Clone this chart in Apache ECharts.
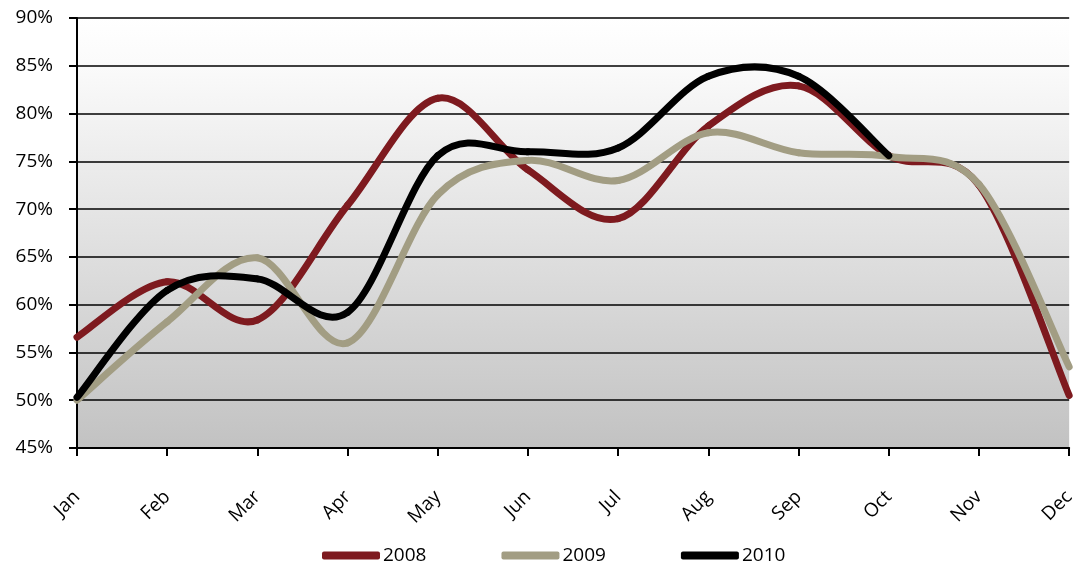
<!DOCTYPE html>
<html>
<head>
<meta charset="utf-8">
<script src="https://cdn.jsdelivr.net/npm/echarts@6/dist/echarts.min.js"></script>
<style>
  html, body { margin: 0; padding: 0; background: #fff; }
  #chart { width: 1078px; height: 567px; }
</style>
</head>
<body>
<div id="chart"></div>
<script>
// Monthly occupancy rate (%) by year
const months = ['Jan', 'Feb', 'Mar', 'Apr', 'May', 'Jun', 'Jul', 'Aug', 'Sep', 'Oct', 'Nov', 'Dec'];
const series2008 = [56.6, 62.4, 58.4, 70.4, 81.6, 74.1, 69.0, 78.7, 82.9, 75.6, 72.5, 50.5];
const series2009 = [50.0, 58.2, 64.9, 56.0, 71.5, 75.1, 73.0, 78.0, 75.9, 75.5, 72.6, 53.5];
const series2010 = [50.3, 61.5, 62.7, 59.2, 75.6, 76.0, 76.4, 83.9, 83.9, 75.6, null, null];

const yMin = 45, yMax = 90, yStep = 5;
const font = 'Open Sans, DejaVu Sans, sans-serif';

const chart = echarts.init(document.getElementById('chart'));

// Smoothed line drawn as Catmull-Rom cubic segments between consecutive months.
function curveSeries(name, values, color) {
  const n = values.length;
  const ok = k => k >= 0 && k < n && values[k] != null;
  return {
    name: name,
    type: 'custom',
    clip: false,
    itemStyle: { color: color },
    data: values.map((v, i) => [i, v == null ? '-' : v]),
    encode: { x: 0, y: 1 },
    renderItem: function (params, api) {
      const i = params.dataIndex;
      if (!ok(i) || !ok(i + 1)) return { type: 'group', children: [] };
      const pt = k => api.coord([k, values[k]]);
      const p1 = pt(i), p2 = pt(i + 1);
      const p0 = ok(i - 1) ? pt(i - 1) : p1;
      const p3 = ok(i + 2) ? pt(i + 2) : p2;
      return {
        type: 'bezierCurve',
        shape: {
          x1: p1[0], y1: p1[1],
          cpx1: p1[0] + (p2[0] - p0[0]) / 6, cpy1: p1[1] + (p2[1] - p0[1]) / 6,
          cpx2: p2[0] - (p3[0] - p1[0]) / 6, cpy2: p2[1] - (p3[1] - p1[1]) / 6,
          x2: p2[0], y2: p2[1]
        },
        style: { stroke: color, lineWidth: 7, fill: null, lineCap: 'round' }
      };
    }
  };
}

chart.setOption({
  animation: false,
  textStyle: { fontFamily: font },
  grid: {
    left: 77, right: 6, top: 18, bottom: 119,
    show: true,
    borderWidth: 0,
    backgroundColor: {
      type: 'linear', x: 0, y: 0, x2: 0, y2: 1,
      colorStops: [
        { offset: 0, color: '#ffffff' },
        { offset: 0.1, color: '#fbfbfb' },
        { offset: 1, color: '#c2c2c2' }
      ]
    }
  },
  legend: {
    top: 541,
    left: 317,
    itemWidth: 58,
    itemHeight: 8,
    itemGap: 75,
    icon: 'roundRect',
    textStyle: { fontFamily: font, fontSize: 19, color: '#000', padding: [0, 0, 0, -2] },
    data: ['2008', '2009', '2010']
  },
  xAxis: {
    type: 'category',
    data: months,
    boundaryGap: false,
    axisLine: { lineStyle: { color: '#000', width: 2 } },
    axisTick: { show: true, length: 8, lineStyle: { color: '#000', width: 2 } },
    axisLabel: { rotate: 45, fontSize: 19, color: '#000', fontFamily: font, margin: 46 },
    splitLine: { show: false }
  },
  yAxis: {
    type: 'value',
    min: yMin, max: yMax, interval: yStep,
    axisLine: { show: true, lineStyle: { color: '#000', width: 2 } },
    axisTick: { show: true, length: 8, lineStyle: { color: '#000', width: 2 } },
    axisLabel: { formatter: '{value}%', fontSize: 19, color: '#000', fontFamily: font, margin: 24 },
    splitLine: { show: true, lineStyle: { color: '#000', width: 1.5 } }
  },
  series: [
    curveSeries('2008', series2008, '#7e1a1f'),
    curveSeries('2009', series2009, '#a29d83'),
    curveSeries('2010', series2010, '#000000')
  ]
});
</script>
</body>
</html>
